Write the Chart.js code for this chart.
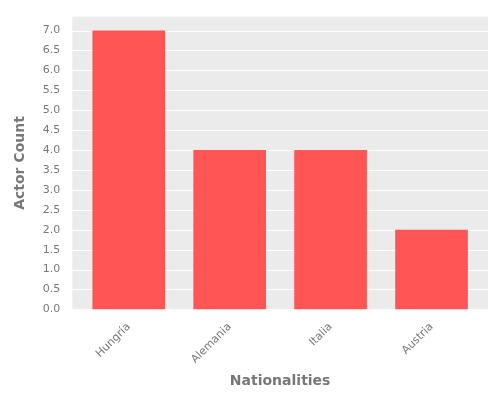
<!DOCTYPE html>
<html><head><script src="https://cdn.jsdelivr.net/npm/chart.js"></script>
<style>body{margin:0;background:#fff}#w{width:500px;height:400px}</style></head>
<body><div id="w"><canvas id="c"></canvas></div>
<script>
const categories = ["Hungría","Alemania","Italia","Austria"];
const counts = [7,4,4,2];
const E = 6;
const bgPlugin = {id:'bg',beforeDraw(ch){const a=ch.chartArea,x=ch.ctx;x.save();x.fillStyle='#EBEBEB';x.fillRect(a.left-E,a.top,a.right-a.left+2*E,a.bottom-a.top);
x.strokeStyle='#fff';x.lineWidth=1;const y=ch.scales.y;y.ticks.forEach(t=>{const p=Math.round(y.getPixelForValue(t.value))+0.5;x.beginPath();x.moveTo(a.left-E,p);x.lineTo(a.right+E,p);x.stroke();});x.restore();}};
new Chart(document.getElementById('c'),{
type:'bar',
data:{labels:categories,datasets:[{data:counts,backgroundColor:'#FF5555',barPercentage:0.72,categoryPercentage:1}]},
options:{responsive:true,maintainAspectRatio:false,animation:false,
layout:{padding:{top:10,right:18,left:8,bottom:6}},
plugins:{legend:{display:false},tooltip:{enabled:false}},
scales:{
x:{grid:{display:false},border:{display:false},
ticks:{color:'#777',font:{family:'DejaVu Sans',size:11},maxRotation:45,minRotation:45},
title:{display:true,text:'Nationalities',color:'#777',font:{family:'DejaVu Sans',size:14,weight:'bold'}}},
y:{min:0,max:7.35,grid:{display:false},border:{display:false},
ticks:{stepSize:0.5,padding:10,color:'#777',font:{family:'DejaVu Sans',size:11},callback:v=>v.toFixed(1)},
afterBuildTicks(ax){ax.ticks=ax.ticks.filter(t=>t.value<=7.0001);},
title:{display:true,text:'Actor Count',color:'#777',font:{family:'DejaVu Sans',size:14,weight:'bold'}}}
}},plugins:[bgPlugin]});
</script></body></html>
